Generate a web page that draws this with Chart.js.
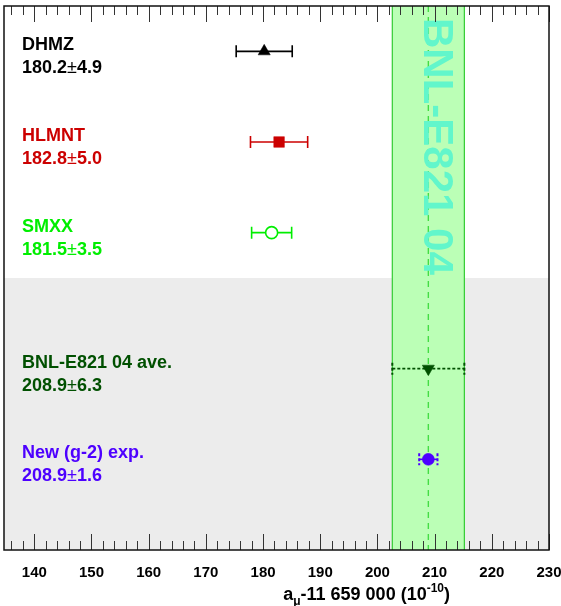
<!DOCTYPE html>
<html>
<head>
<meta charset="utf-8">
<script src="https://cdn.jsdelivr.net/npm/chart.js@4.4.0/dist/chart.umd.min.js"></script>
<style>
  html, body { margin: 0; padding: 0; background: #fff; }
  #wrap { width: 561px; height: 606px; }
</style>
</head>
<body>
<div id="wrap"><canvas id="myChart" width="561" height="606"></canvas></div>
<script>
// measurements, top to bottom
const names = ["DHMZ", "HLMNT", "SMXX", "BNL-E821 04 ave.", "New (g-2) exp."];
const values = [180.2, 182.8, 181.5, 208.9, 208.9];
const errors = [4.9, 5.0, 3.5, 6.3, 1.6];
const rows = [0.5, 1.5, 2.5, 4, 5];
const colors = ["#000000", "#cc0000", "#00ee00", "#005000", "#4d00ff"];
const pointStyles = ["triangle", "rect", "circle", "triangle", "circle"];
const pointRadii = [7, 7.5, 6, 7, 6];
const pointFill = [true, true, false, true, true];
const pointRotation = [0, 0, 0, 180, 0];
const barStyles = ["solid", "solid", "solid", "dotted", "dashedcaps"];

// experimental band (BNL-E821 04 average)
const bandCenter = 208.9;
const bandHalf = 6.3;
const bandLabel = "BNL-E821 04";

const xMin = 134.7;
const xMax = 230;
const majorStep = 10;
const minorStep = 2;
const greyFrom = 3; // row where the shaded region starts

const FONT = "'Liberation Sans', Arial, Helvetica, sans-serif";

const decorations = {
  id: "decorations",
  beforeDatasetsDraw(chart) {
    const { ctx, chartArea: a, scales: { x, y } } = chart;
    ctx.save();
    // shaded lower part
    const gy = y.getPixelForValue(greyFrom);
    ctx.fillStyle = "#ececec";
    ctx.fillRect(a.left, gy, a.right - a.left, a.bottom - gy);

    // band
    const bl = x.getPixelForValue(bandCenter - bandHalf);
    const br = x.getPixelForValue(bandCenter + bandHalf);
    ctx.fillStyle = "#bbffb6";
    ctx.fillRect(bl, a.top, br - bl, a.bottom - a.top);
    ctx.strokeStyle = "#33cc33";
    ctx.lineWidth = 1.2;
    ctx.beginPath();
    ctx.moveTo(bl, a.top); ctx.lineTo(bl, a.bottom);
    ctx.moveTo(br, a.top); ctx.lineTo(br, a.bottom);
    ctx.stroke();

    // central dashed line
    const bc = x.getPixelForValue(bandCenter);
    ctx.setLineDash([6, 5]);
    ctx.strokeStyle = "#44dd44";
    ctx.lineWidth = 1.4;
    ctx.beginPath();
    ctx.moveTo(bc, a.top); ctx.lineTo(bc, a.bottom);
    ctx.stroke();
    ctx.setLineDash([]);

    // rotated band label
    ctx.save();
    ctx.translate(bc - 4, a.top + 12);
    ctx.rotate(Math.PI / 2);
    ctx.fillStyle = "#62f6cb";
    ctx.font = "bold 42px " + FONT;
    ctx.textBaseline = "alphabetic";
    ctx.textAlign = "left";
    ctx.fillText(bandLabel, 0, 0);
    ctx.restore();

    // error bars
    values.forEach((v, i) => {
      const py = y.getPixelForValue(rows[i]);
      const x1 = x.getPixelForValue(v - errors[i]);
      const x2 = x.getPixelForValue(v + errors[i]);
      ctx.strokeStyle = colors[i];
      ctx.lineWidth = 1.6;
      if (barStyles[i] === "dotted") ctx.setLineDash([3, 2]);
      ctx.beginPath();
      ctx.moveTo(x1, py); ctx.lineTo(x2, py);
      ctx.stroke();
      if (barStyles[i] !== "solid") ctx.setLineDash([3, 2]);
      ctx.lineWidth = barStyles[i] === "solid" ? 1.6 : 2;
      ctx.beginPath();
      ctx.moveTo(x1, py - 6); ctx.lineTo(x1, py + 6);
      ctx.moveTo(x2, py - 6); ctx.lineTo(x2, py + 6);
      ctx.stroke();
      ctx.setLineDash([]);
    });
    ctx.restore();
  },
  afterDatasetsDraw(chart) {
    const { ctx, chartArea: a, scales: { x, y } } = chart;
    ctx.save();
    // measurement labels
    ctx.textAlign = "left";
    ctx.textBaseline = "middle";
    names.forEach((n, i) => {
      const py = y.getPixelForValue(rows[i]);
      ctx.fillStyle = colors[i];
      ctx.font = "bold 18px " + FONT;
      ctx.fillText(n, 22, py - 6);
      let tx = 22;
      const ly = py + 17;
      const s1 = values[i].toFixed(1);
      ctx.fillText(s1, tx, ly);
      tx += ctx.measureText(s1).width;
      ctx.font = "18px " + FONT;
      ctx.fillText("\u00b1", tx, ly);
      tx += ctx.measureText("\u00b1").width;
      ctx.font = "bold 18px " + FONT;
      ctx.fillText(errors[i].toFixed(1), tx, ly);
    });

    // inward ticks top and bottom
    ctx.strokeStyle = "#333";
    ctx.lineWidth = 1;
    ctx.beginPath();
    for (let t = Math.ceil(xMin / minorStep) * minorStep; t <= xMax + 1e-6; t += minorStep) {
      const px = Math.round(x.getPixelForValue(t)) + 0.5;
      const len = Math.abs(t % majorStep) < 1e-6 ? 16 : 9;
      ctx.moveTo(px, a.top); ctx.lineTo(px, a.top + len);
      ctx.moveTo(px, a.bottom); ctx.lineTo(px, a.bottom - len);
    }
    ctx.stroke();

    // frame
    ctx.strokeStyle = "#111";
    ctx.lineWidth = 1.5;
    ctx.strokeRect(a.left, a.top, a.right - a.left, a.bottom - a.top);

    // axis title with sub/superscript
    const parts = [
      ["a", 18, 0],
      ["\u03bc", 12, 5],
      ["-11 659 000 (10", 18, 0],
      ["-10", 12, -8],
      [")", 18, 0]
    ];
    let total = 0;
    parts.forEach(p => { ctx.font = "bold " + p[1] + "px " + FONT; total += ctx.measureText(p[0]).width; });
    let tx = a.right - 99 - total;
    const ty = 600;
    ctx.fillStyle = "#000";
    ctx.textBaseline = "alphabetic";
    parts.forEach(p => {
      ctx.font = "bold " + p[1] + "px " + FONT;
      ctx.fillText(p[0], tx, ty + p[2]);
      tx += ctx.measureText(p[0]).width;
    });
    ctx.restore();
  }
};

const datasets = values.map((v, i) => ({
  label: names[i],
  data: [{ x: v, y: rows[i] }],
  pointStyle: pointStyles[i],
  pointRadius: pointRadii[i],
  pointRotation: pointRotation[i],
  backgroundColor: pointFill[i] ? colors[i] : "#ffffff",
  borderColor: colors[i],
  borderWidth: pointFill[i] ? 0.5 : 1.6,
  showLine: false
}));

new Chart(document.getElementById("myChart"), {
  type: "scatter",
  data: { datasets: datasets },
  options: {
    responsive: false,
    animation: false,
    layout: { autoPadding: false, padding: { left: 4, right: 0, top: 6, bottom: 0 } },
    plugins: { legend: { display: false }, tooltip: { enabled: false } },
    scales: {
      x: {
        type: "linear",
        min: xMin,
        max: xMax,
        grid: { display: false, drawTicks: false },
        border: { display: false },
        ticks: {
          stepSize: majorStep,
          includeBounds: false,
          autoSkip: false,
          maxRotation: 0,
          padding: 14,
          color: "#000",
          font: { family: FONT, size: 15, weight: "bold" }
        },
        afterFit(scale) {
          scale.height = 56;
          scale.paddingLeft = 0;
          scale.paddingRight = 12;
        }
      },
      y: {
        type: "linear",
        display: false,
        min: 0,
        max: 6,
        reverse: true
      }
    }
  },
  plugins: [decorations]
});
</script>
</body>
</html>
